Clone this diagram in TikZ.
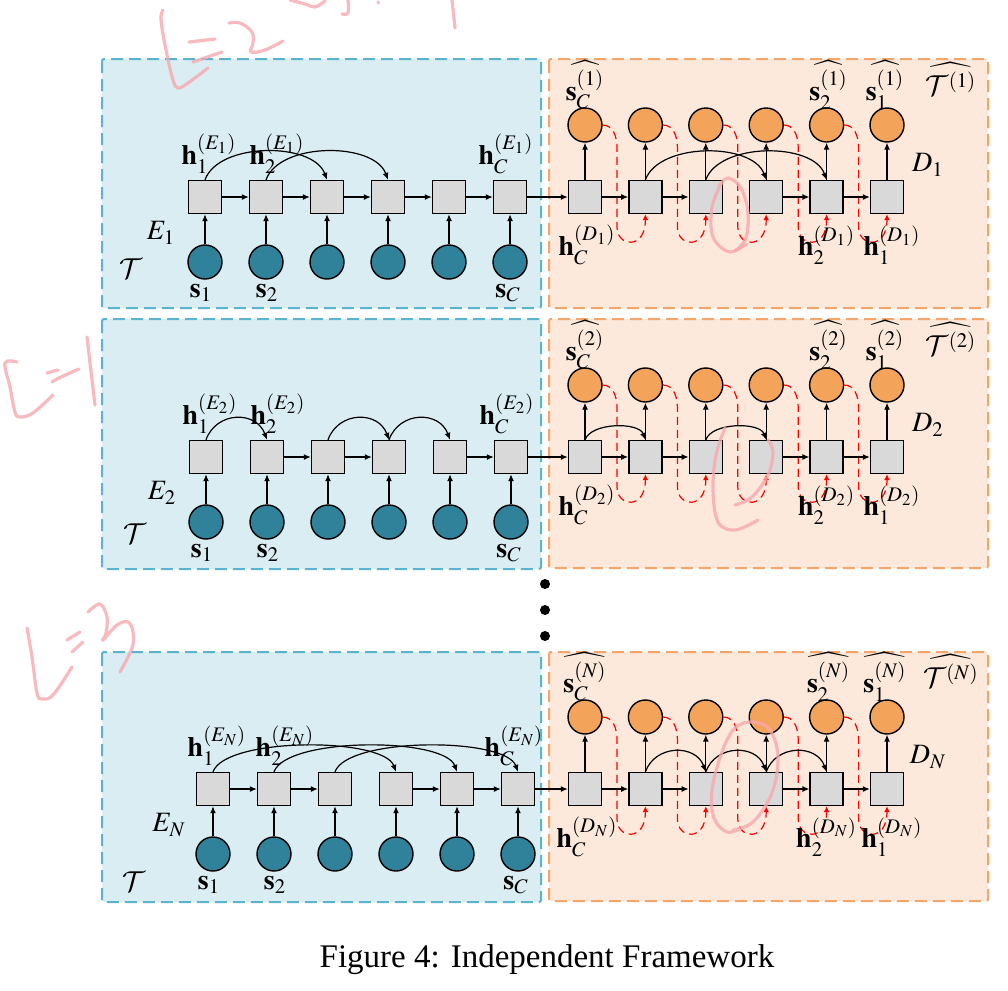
\documentclass[tikz,border=0pt]{standalone}
\usepackage{mathptmx}
\DeclareMathAlphabet{\mathcal}{OMS}{cmsy}{m}{n}
\usepackage{fontspec}
\setmainfont{Liberation Serif}
\usetikzlibrary{arrows.meta,calc}

\definecolor{encfill}{HTML}{DAEDF3}
\definecolor{encline}{HTML}{5BB4CF}
\definecolor{decfill}{HTML}{FCE9DB}
\definecolor{decline}{HTML}{F4A66A}
\definecolor{inpteal}{HTML}{2F8299}
\definecolor{outorange}{HTML}{F4A35B}
\definecolor{cellgray}{HTML}{D9D9D9}
\definecolor{inkpink}{HTML}{F6A9AE}

\tikzset{
  sqbox/.style={draw, line width=0.7pt, fill=cellgray, minimum size=16.5pt, inner sep=0pt},
  inpcirc/.style={circle, draw, line width=0.7pt, fill=inpteal, minimum size=17pt, inner sep=0pt},
  outcirc/.style={circle, draw, line width=0.7pt, fill=outorange, minimum size=17pt, inner sep=0pt},
  encframe/.style={draw=encline, fill=encfill, line width=1pt, dash pattern=on 6pt off 3pt, rounded corners=1pt},
  decframe/.style={draw=decline, fill=decfill, line width=1pt, dash pattern=on 6pt off 3pt, rounded corners=1pt},
  link/.style={line width=0.6pt, -{Latex[length=3.5pt,width=3pt]}},
  hop/.style={out=70, in=110},
  feedlink/.style={red, line width=0.6pt, dash pattern=on 4pt off 2.5pt, -{Latex[length=3pt,width=3pt]}},
  lbl/.style={inner sep=0pt, font=\fontsize{14}{16}\selectfont},
  scribble/.style={draw=inkpink, line width=1.6pt, line cap=round, line join=round, opacity=0.8},
}

\begin{document}
\begin{tikzpicture}[x=0.5pt, y=0.5pt]
    \useasboundingbox (0,0) rectangle (1008,-991);

    \draw[encframe] (102,-59) rectangle (541,-308);
    \draw[decframe] (549,-59) rectangle (988,-308);
    \draw[encframe] (102,-319) rectangle (541,-569);
    \draw[decframe] (549,-319) rectangle (988,-568);
    \draw[encframe] (102,-652) rectangle (541,-902);
    \draw[decframe] (549,-652) rectangle (988,-901);

    \foreach \row/\lay/\ya/\xa/\tx/\ty in {A/1/197/205/131/269,B/2/457/206/135/534,C/N/789/213/134/882}{
        \foreach \i in {1,...,6}{
            \node[sqbox] (enc\row\i) at ({\xa+61*(\i-1)},-\ya) {};
            \node[inpcirc] (inp\row\i) at ({\xa+61*(\i-1)},-\ya-65) {};
            \node[sqbox] (dec\row\i) at ({585+60.4*(\i-1)},-\ya) {};
            \node[outcirc] (out\row\i) at ({585+60.4*(\i-1)},-\ya+72) {};
            \draw[link] (inp\row\i) -- (enc\row\i);
            \draw[link] (dec\row\i) -- (out\row\i);
        }
        \draw[link] (enc\row6) -- (dec\row1);

        \foreach \i [count=\j from 2] in {1,...,5}{
            \draw[feedlink] (out\row\i.east) to[out=0,in=90] ($(dec\row\i)+(32,50)$) -- ($(dec\row\i)+(32,-30)$)
                .. controls ($(dec\row\i)+(32,-50)$) and ($(dec\row\j.south)+(0,-36)$) .. (dec\row\j.south);
        }

        \node[lbl] (henc\row1) at ($(enc\row1.north)+(4,26)$) {$\mathbf{h}_1^{(E_\lay)}$};
        \node[lbl] (henc\row2) at ($(enc\row2.north)+(11,26)$) {$\mathbf{h}_2^{(E_\lay)}$};
        \node[lbl] (henc\row6) at ($(enc\row6.north)+(-4,26)$) {$\mathbf{h}_C^{(E_\lay)}$};
        \node[lbl] (ename\row) at ($(enc\row1)+(-44,-36)$) {$E_\lay$};
        \node[lbl] (tset\row) at (\tx,-\ty) {$\mathcal{T}$};
        \node[lbl] (sin\row1) at ($(inp\row1)+(-4,-31)$) {$\mathbf{s}_1$};
        \node[lbl] (sin\row2) at ($(inp\row2)+(1,-31)$) {$\mathbf{s}_2$};
        \node[lbl] (sin\row6) at ($(inp\row6)+(-2,-31)$) {$\mathbf{s}_C$};
        \node[lbl] (sout\row1) at ($(out\row1)+(0,40)$) {$\widehat{\mathbf{s}_C^{(\lay)}}$};
        \node[lbl] (sout\row5) at ($(out\row5)+(2,40)$) {$\widehat{\mathbf{s}_2^{(\lay)}}$};
        \node[lbl] (sout\row6) at ($(out\row6)+(-2,40)$) {$\widehat{\mathbf{s}_1^{(\lay)}}$};
        \node[lbl] (tgen\row) at ($(out\row6)+(64,46)$) {$\widehat{\mathcal{T}^{(\lay)}}$};
        \node[lbl] (dname\row) at ($(dec\row6)+(41,32)$) {$D_\lay$};
        \node[lbl] (hdec\row1) at ($(dec\row1)+(2,-48)$) {$\mathbf{h}_C^{(D_\lay)}$};
        \node[lbl] (hdec\row5) at ($(dec\row5)+(0,-48)$) {$\mathbf{h}_2^{(D_\lay)}$};
        \node[lbl] (hdec\row6) at ($(dec\row6)+(5,-48)$) {$\mathbf{h}_1^{(D_\lay)}$};
    }

    \foreach \a/\b in {1/2,2/3,3/4,4/5,5/6} \draw[link] (encA\a) -- (encA\b);
    \foreach \a/\b in {1/2,2/3,4/5,5/6} \draw[link] (decA\a) -- (decA\b);
    \foreach \a/\b in {2/3,3/4,5/6} \draw[link] (encB\a) -- (encB\b);
    \foreach \a/\b in {1/2,2/3,4/5,5/6} \draw[link] (decB\a) -- (decB\b);
    \foreach \a/\b in {1/2,2/3,4/5,5/6} \draw[link] (encC\a) -- (encC\b);
    \foreach \a/\b in {1/2,2/3,4/5,5/6} \draw[link] (decC\a) -- (decC\b);

    \draw[link] (encA1.north) to[hop, looseness=0.85] (encA3.north);
    \draw[link] (encA2.north) to[hop, looseness=0.85] (encA4.north);
    \draw[link] (decA2.north) to[hop, looseness=0.85] (decA4.north);
    \draw[link] (decA3.north) to[hop, looseness=0.85] (decA5.north);

    \draw[link] (encB1.north) to[hop, looseness=1.3] (encB2.north);
    \draw[link] (encB3.north) to[hop, looseness=1.3] (encB4.north);
    \draw[link] (encB4.north) to[hop, looseness=1.3] (encB5.north);
    \draw[link] (decB1.north) to[hop, looseness=0.8] (decB2.north);
    \draw[link] (decB3.north) to[hop, looseness=0.8] (decB4.north);

    \draw[link] (encC1.north) to[hop, looseness=0.52] (encC4.north);
    \draw[link] (encC2.north) to[hop, looseness=0.52] (encC5.north);
    \draw[link] (encC3.north) to[hop, looseness=0.52] (encC6.north);
    \draw[link] (decC2.north) to[hop, looseness=1.25] (decC3.north);
    \draw[link] (decC3.north) to[hop, looseness=1.25] (decC4.north);
    \draw[link] (decC4.north) to[hop, looseness=1.25] (decC5.north);

    \foreach \d/\yy in {1/584,2/610,3/636}
        \node[circle, fill=black, minimum size=5pt, inner sep=0pt] (dot\d) at (545,-\yy) {};

    \node[font=\fontsize{16.5}{19}\selectfont] (caption) at (547,-960) {Figure 4: Independent Framework};

    \draw[scribble] plot[smooth, tension=0.6] coordinates {(163,-10) (161,-20) (166,-50) (173,-80) (178,-88) (188,-83) (208,-68)};
    \draw[scribble] (189,-42) -- (215,-39);
    \draw[scribble] (193,-62) -- (222,-52);
    \draw[scribble] plot[smooth, tension=0.6] coordinates {(229,-23) (240,-23) (252,-32) (253,-43) (251,-52) (265,-50) (283,-41)};
    \draw[scribble] plot[smooth, tension=0.6] coordinates {(290,0) (305,-4) (315,-7) (325,-1)};
    \draw[scribble] plot[smooth, tension=0.6] coordinates {(348,0) (348,-13) (342,-14)};
    \draw[scribble] (378,-2) -- (378.5,-3);
    \draw[scribble] (452,0) -- (455,-28);

    \draw[scribble] plot[smooth, tension=0.6] coordinates {(17,-362) (5,-363) (10,-387) (15,-412) (20,-417) (33,-413) (53,-395)};
    \draw[scribble] (47,-373) -- (58,-370);
    \draw[scribble] plot[smooth, tension=0.6] coordinates {(52,-382) (59,-378) (79,-369)};
    \draw[scribble] plot[smooth, tension=0.6] coordinates {(87,-337) (90,-363) (95,-405)};

    \draw[scribble] plot[smooth, tension=0.6] coordinates {(27,-628) (32,-657) (37,-693) (42,-699) (53,-695) (72,-667)};
    \draw[scribble] (67,-640) -- (80,-632);
    \draw[scribble] (72,-652) -- (83,-642);
    \draw[scribble] plot[smooth, tension=0.6] coordinates {(88,-612) (100,-604) (107,-617) (106,-633) (103,-640) (117,-625) (128,-622) (133,-632) (132,-648) (120,-672)};

    \draw[scribble] plot[smooth, tension=0.6] coordinates {(722,-182) (712,-207) (713,-237) (730,-252) (745,-240) (748,-213) (741,-188) (728,-178) (719,-186)};
    \draw[scribble] (735,-251) -- (747,-244);
    \draw[scribble] plot[smooth, tension=0.6] coordinates {(725,-428) (716,-455) (713,-490) (718,-522) (735,-530) (758,-520)};
    \draw[scribble] plot[smooth, tension=0.6] coordinates {(735,-505) (752,-497) (768,-475) (773,-452) (768,-440)};
    \draw[scribble] plot[smooth, tension=0.6] coordinates {(733,-830) (753,-822) (772,-793) (778,-757) (770,-730) (753,-722) (735,-728) (722,-752) (712,-790) (714,-818) (727,-832) (742,-828)};

\end{tikzpicture}
\end{document}
